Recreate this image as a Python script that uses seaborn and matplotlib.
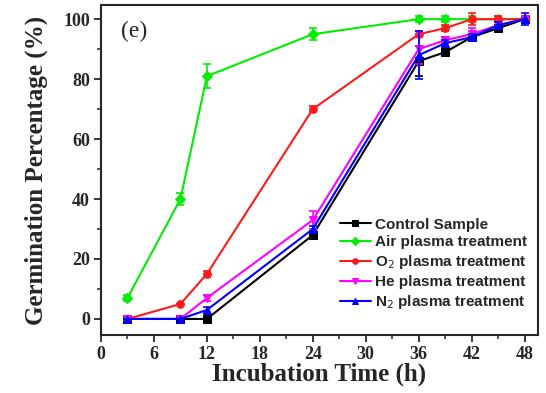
import matplotlib
matplotlib.use("Agg")
import matplotlib.pyplot as plt
import seaborn as sns
import pandas as pd
import numpy as np
from matplotlib.ticker import MultipleLocator

hours = [3, 9, 12, 24, 36, 39, 42, 45, 48]
control = [0, 0, 0, 28, 86, 89, 94, 97, 100]
air = [7, 40, 81, 95, 100, 100, 100, 100, 100]
o2 = [0, 5, 15, 70, 95, 97, 100, 100, 100]
he = [0, 0, 7, 33, 90, 93, 95, 98, 100]
n2 = [0, 0, 3, 30, 88, 92, 94, 98, 100]

control_err = [0, 0, 0, 1, 5, 1, 1, 1, 1]
air_err = [1, 2, 4, 2, 1, 1, 1, 1, 1]
o2_err = [0, 0, 1, 1, 1, 1, 2, 1, 1]
he_err = [0, 0, 1, 3, 5, 1, 2, 1, 1]
n2_err = [0, 0, 1, 1, 8, 1, 1, 1, 2]

labels = ["Control Sample", "Air plasma treatment", "O$_2$ plasma treatment",
          "He plasma treatment", "N$_2$ plasma treatment"]
colors = ["black", "#00ee00", "#ff1a1a", "#ff00ff", "#0000ff"]
markers = ["s", "D", "o", "v", "^"]
series = [control, air, o2, he, n2]
errs = [control_err, air_err, o2_err, he_err, n2_err]

sns.set_style("ticks")
fig = plt.figure(figsize=(5.46, 3.93), dpi=100)
ax = fig.add_axes([0.185, 0.148, 0.8, 0.839])

for lab, col, mk, ys, er in zip(labels, colors, markers, series, errs):
    df = pd.DataFrame({"t": hours, "g": ys})
    sns.lineplot(data=df, x="t", y="g", ax=ax, color=col, marker=mk,
                 markersize=5.5, markeredgecolor=col, linewidth=1.5, label=lab)
    ax.errorbar(hours, ys, yerr=er, fmt="none", ecolor=col, elinewidth=1.2,
                capsize=3, capthick=1.2)

ax.set_xlim(0, 49.5)
ax.set_ylim(-5.3, 104.7)
ax.xaxis.set_major_locator(MultipleLocator(6))
ax.xaxis.set_minor_locator(MultipleLocator(3))
ax.yaxis.set_major_locator(MultipleLocator(20))
ax.yaxis.set_minor_locator(MultipleLocator(10))
ax.tick_params(which="major", direction="out", length=5, width=1.3, top=False, right=False, pad=3)
ax.tick_params(which="minor", direction="out", length=3, width=1.1, top=False, right=False)
for s in ax.spines.values():
    s.set_linewidth(1.5)
    s.set_visible(True)

serif = ["Liberation Serif", "DejaVu Serif"]
for lbl in ax.get_xticklabels() + ax.get_yticklabels():
    lbl.set_family(serif)
    lbl.set_fontweight("bold")
    lbl.set_fontsize(13)

ax.set_xlabel("Incubation Time (h)", family=serif, fontweight="bold", fontsize=18, labelpad=0)
ax.set_ylabel("Germination Percentage (%)", family=serif, fontweight="bold", fontsize=18, labelpad=11)
ax.text(0.045, 0.92, "(e)", transform=ax.transAxes, family=serif, fontsize=17, va="center")

leg = ax.legend(loc="lower right", bbox_to_anchor=(1.0, 0.04), frameon=False,
                prop={"family": "Liberation Sans", "weight": "bold", "size": 11},
                handlelength=2.0, handletextpad=0.3, labelspacing=0.25, borderaxespad=0.3)
for h in leg.legend_handles:
    h.set_markersize(4)

fig.savefig("out.png", dpi=100)
